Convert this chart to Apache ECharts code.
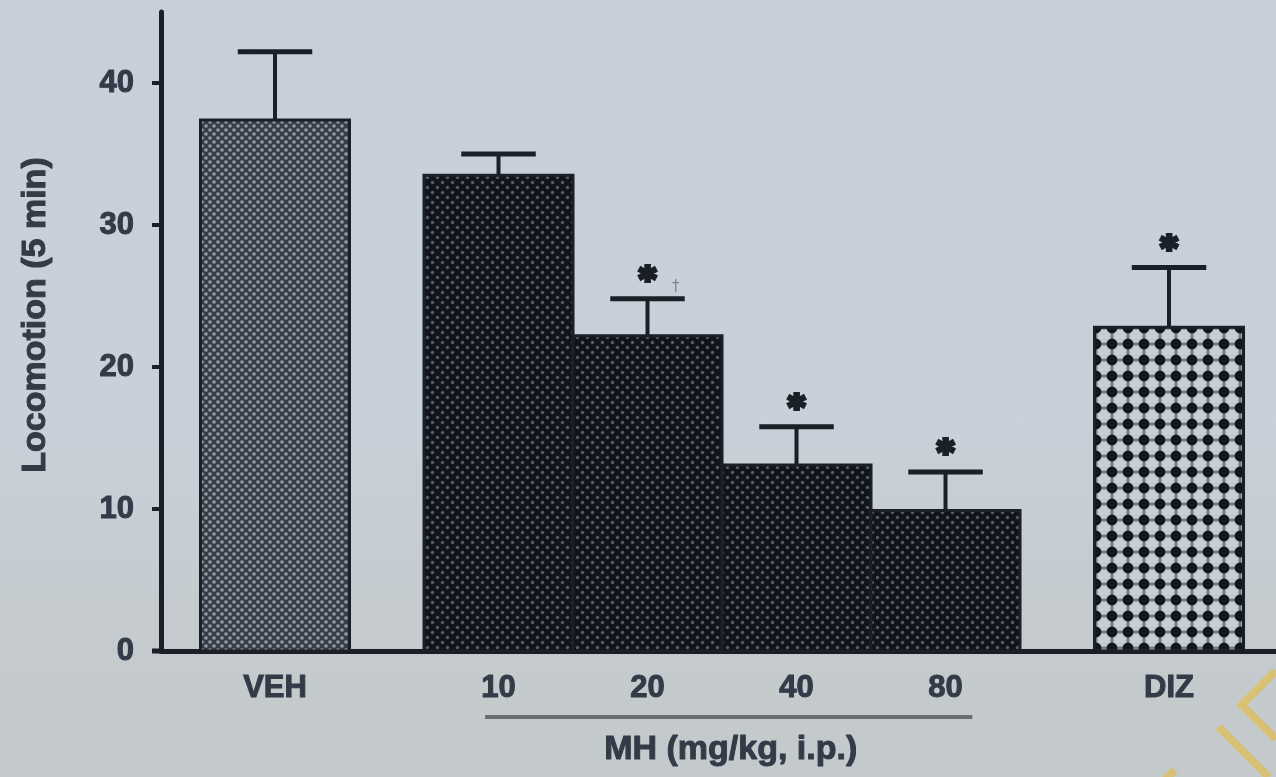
<!DOCTYPE html>
<html>
<head>
<meta charset="utf-8">
<script src="https://cdn.jsdelivr.net/npm/echarts@6/dist/echarts.min.js"></script>
<style>
html,body{margin:0;padding:0;}
body{width:1276px;height:777px;overflow:hidden;
background:linear-gradient(to bottom,#c7d0da 0%,#c8d0d9 55%,#c5cbce 80%,#c4c9cb 100%);}
#chart{width:1276px;height:777px;}
</style>
</head>
<body>
<div id="chart"></div>
<script>
// ---- data ----
const categories = ['VEH', '10', '20', '40', '80', 'DIZ'];
const groupPositions = [0, 1.5, 2.5, 3.5, 4.5, 6];
const means = [37.4, 33.5, 22.2, 13.1, 9.9, 22.8];
const sem = [4.8, 1.5, 2.6, 2.7, 2.7, 4.2];
const significance = ['', '', '*', '*', '*', '*'];
const secondaryMark = ['', '', '†', '', '', ''];
const yTicks = [0, 10, 20, 30, 40];
const yAxisTitle = 'Locomotion (5 min)';
const doseTitle = 'MH (mg/kg, i.p.)';
const doseGroupRange = [1.41, 4.68];

// ---- patterns ----
function makePattern(size, draw) {
  const c = document.createElement('canvas');
  c.width = size; c.height = size;
  const ctx = c.getContext('2d');
  draw(ctx, size);
  return { image: c, repeat: 'repeat' };
}
const vehPattern = makePattern(8, (ctx, s) => {
  ctx.fillStyle = '#383e47'; ctx.fillRect(0, 0, s, s);
  ctx.fillStyle = '#959ca6';
  ctx.beginPath(); ctx.arc(2, 2, 1.8, 0, Math.PI * 2); ctx.fill();
  ctx.beginPath(); ctx.arc(6, 6, 1.8, 0, Math.PI * 2); ctx.fill();
});
const dosePattern = makePattern(10, (ctx, s) => {
  ctx.fillStyle = '#12141b'; ctx.fillRect(0, 0, s, s);
  ctx.fillStyle = '#555d6c';
  ctx.beginPath(); ctx.arc(2.5, 2.5, 1.7, 0, Math.PI * 2); ctx.fill();
  ctx.beginPath(); ctx.arc(7.5, 7.5, 1.7, 0, Math.PI * 2); ctx.fill();
});
const dizPattern = makePattern(16, (ctx, s) => {
  ctx.fillStyle = '#c4ccd4'; ctx.fillRect(0, 0, s, s);
  ctx.fillStyle = 'rgba(25,28,36,0.45)';
  ctx.fillRect(6.5, 0, 3, s); ctx.fillRect(0, 6.5, s, 3);
  ctx.fillStyle = '#13161d';
  ctx.beginPath(); ctx.arc(8, 8, 5.4, 0, Math.PI * 2); ctx.fill();
});
const barPatterns = [vehPattern, dosePattern, dosePattern, dosePattern, dosePattern, dizPattern];

const textColor = '#323b47';
const inkColor = '#1b1f27';
const fontFamily = '"Liberation Sans", Arial, sans-serif';

const chart = echarts.init(document.getElementById('chart'));

const barData = groupPositions.map((p, i) => [p, means[i], i]);
const errData = groupPositions.map((p, i) => [p, means[i], sem[i], i]);

const option = {
  backgroundColor: 'transparent',
  animation: false,
  grid: { left: 161, right: 0, top: 12, bottom: 126, containLabel: false },
  xAxis: {
    type: 'value',
    min: -0.7651,
    max: 6.718,
    splitLine: { show: false },
    axisLine: { show: true, onZero: false, lineStyle: { color: inkColor, width: 5 } },
    axisTick: { show: false },
    axisLabel: {
      customValues: groupPositions,
      formatter: (v) => {
        const idx = groupPositions.findIndex(p => Math.abs(p - v) < 1e-6);
        return idx >= 0 ? categories[idx] : '';
      },
      margin: 22,
      color: textColor,
      fontSize: 31,
      fontWeight: 'bold',
      fontFamily: fontFamily,
      textBorderColor: textColor,
      textBorderWidth: 1
    }
  },
  yAxis: {
    type: 'value',
    min: 0,
    max: 45,
    interval: 10,
    splitLine: { show: false },
    axisLine: { show: true, onZero: false, lineStyle: { color: inkColor, width: 5 } },
    axisTick: { show: true, customValues: yTicks, length: 9, lineStyle: { color: inkColor, width: 4 } },
    axisLabel: {
      customValues: yTicks,
      margin: 27,
      color: textColor,
      fontSize: 31,
      fontWeight: 'bold',
      fontFamily: fontFamily,
      textBorderColor: textColor,
      textBorderWidth: 1
    }
  },
  series: [
    {
      type: 'custom',
      name: 'bars',
      data: barData,
      z: 2,
      renderItem: (params, api) => {
        const x = api.value(0), y = api.value(1), idx = api.value(2);
        const p0 = api.coord([x - 0.5, y]);
        const p1 = api.coord([x + 0.5, 0]);
        return {
          type: 'rect',
          shape: { x: p0[0], y: p0[1], width: p1[0] - p0[0], height: p1[1] - p0[1] },
          style: { fill: barPatterns[idx], stroke: inkColor, lineWidth: 3 }
        };
      }
    },
    {
      type: 'custom',
      name: 'errors',
      data: errData,
      z: 3,
      renderItem: (params, api) => {
        const x = api.value(0), y = api.value(1), e = api.value(2), idx = api.value(3);
        const base = api.coord([x, y]);
        const top = api.coord([x, y + e]);
        const capL = api.coord([x - 0.25, y + e]);
        const capR = api.coord([x + 0.25, y + e]);
        const children = [
          { type: 'line', shape: { x1: base[0], y1: base[1], x2: top[0], y2: top[1] },
            style: { stroke: inkColor, lineWidth: 4 } },
          { type: 'line', shape: { x1: capL[0], y1: capL[1], x2: capR[0], y2: capR[1] },
            style: { stroke: inkColor, lineWidth: 5 } }
        ];
        if (significance[idx]) {
          children.push({
            type: 'text',
            style: { text: significance[idx], x: top[0], y: top[1] - 2,
              fill: inkColor, stroke: inkColor, lineWidth: 4,
              font: 'bold 32px "DejaVu Sans", sans-serif',
              align: 'center', verticalAlign: 'bottom' }
          });
        }
        if (secondaryMark[idx]) {
          children.push({
            type: 'text',
            style: { text: secondaryMark[idx], x: capR[0] - 9, y: top[1] - 4,
              fill: '#7c8592', font: '15px "DejaVu Sans", sans-serif',
              align: 'center', verticalAlign: 'bottom' }
          });
        }
        return { type: 'group', children };
      }
    }
  ]
};
chart.setOption(option);

// dose group bracket and title, positioned through the chart's own scale
const bl = chart.convertToPixel({ gridIndex: 0 }, [doseGroupRange[0], 0]);
const br = chart.convertToPixel({ gridIndex: 0 }, [doseGroupRange[1], 0]);
const mid = (bl[0] + br[0]) / 2;
chart.setOption({
  graphic: [
    { type: 'line', shape: { x1: 152, y1: bl[1], x2: 162, y2: bl[1] },
      style: { stroke: inkColor, lineWidth: 5 } },
    { type: 'line', shape: { x1: bl[0], y1: bl[1] + 66, x2: br[0], y2: br[1] + 66 },
      style: { stroke: '#676c70', lineWidth: 4 } },
    { type: 'text', x: mid + 2, y: bl[1] + 99,
      style: { text: doseTitle, fill: textColor, stroke: textColor, lineWidth: 1,
        font: 'bold 34px ' + fontFamily, align: 'center', verticalAlign: 'middle' } },
    { type: 'text', x: 36, y: 315, rotation: Math.PI / 2,
      style: { text: yAxisTitle, fill: textColor, stroke: textColor, lineWidth: 1,
        font: 'bold 34px ' + fontFamily, align: 'center', verticalAlign: 'middle' } },
    { type: 'polyline', shape: { points: [[1276, 671], [1242, 705], [1276, 739]] },
      style: { stroke: '#d8c074', lineWidth: 8, fill: null } },
    { type: 'line', shape: { x1: 1219, y1: 727, x2: 1269, y2: 777 },
      style: { stroke: '#d8c074', lineWidth: 8 } },
    { type: 'line', shape: { x1: 1165, y1: 780, x2: 1175, y2: 770 },
      style: { stroke: '#d8c074', lineWidth: 8 } }
  ]
});
</script>
</body>
</html>
